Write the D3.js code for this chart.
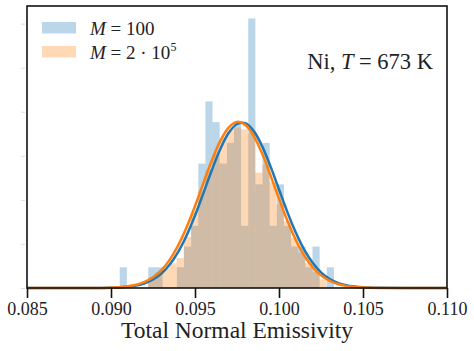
<!DOCTYPE html>
<html>
<head>
<meta charset="utf-8">
<script src="https://cdn.jsdelivr.net/npm/d3@7.9.0/dist/d3.min.js"></script>
<style>
  body { margin: 0; background: #fff; }
  svg { display: block; }
  text { font-family: "Liberation Serif", "DejaVu Serif", serif; fill: #222; }
</style>
</head>
<body>
<svg id="chart" width="474" height="351"></svg>
<script>
// histogram M = 100 : 30 equal bins between min and max, counts per bin
const blueMin = 0.09052, blueMax = 0.10327;
const blueCounts = [1,0,0,0,1,1,0,0,1,2,3,6,9,8,6,7,8,3,13,5,7,3,5,3,2,2,1,2,0,1];
const blueN = 100;

// histogram M = 2e5 : densities per bin
const orangeMin = 0.0922, orangeMax = 0.10283;
const orangeDens = [12,18,22,28,34,58,86,110,134,152,170,180,182,180,176,131,140,120,95,76,57,40,28,18,10];

// fitted normal curves
const curveX = [0.085,0.087,0.089,0.090,0.0905,0.091,0.0915,0.092,0.0925,0.093,0.0935,0.094,0.0945,0.095,0.0955,0.096,0.0965,0.097,0.0975,0.098,0.0985,0.099,0.0995,0.100,0.1005,0.101,0.1015,0.102,0.1025,0.103,0.1035,0.104,0.1045,0.105,0.106,0.108,0.110];
const curveBlue = [0,0,0.05,0.3,0.7,1.4,2.8,5.3,9.6,16.4,26.6,40.9,59.5,82.2,107.6,133.6,157.4,175.8,186.1,186.9,178.0,160.7,137.7,111.8,86.1,62.9,43.5,28.6,17.8,10.5,5.9,3.1,1.6,0.75,0.15,0,0];
const curveOrange = [0,0,0.08,0.4,0.9,1.9,3.7,6.9,12.2,20.3,32.2,48.4,68.9,93.0,119.1,144.7,166.6,182.0,188.5,185.1,172.4,152.3,127.5,101.3,76.3,54.5,36.9,23.7,14.4,8.3,4.6,2.4,1.2,0.55,0.1,0,0];

const xTicks = [0.085,0.090,0.095,0.100,0.105,0.110];
const yTicks = [0,50,100,150,200,250,300];

const svg = d3.select("#chart");
const margin = { top: 6, right: 27, bottom: 63, left: 27 };
const width = +svg.attr("width") - margin.left - margin.right;
const height = +svg.attr("height") - margin.top - margin.bottom;
const g = svg.append("g").attr("transform", `translate(${margin.left},${margin.top})`);

const x = d3.scaleLinear().domain([0.085, 0.110]).range([0, width]);
const y = d3.scaleLinear().domain([0, 320]).range([height, 0]);

const blueW = (blueMax - blueMin) / blueCounts.length;
const blueBins = blueCounts.map((c, i) => ({ x0: blueMin + i * blueW, x1: blueMin + (i + 1) * blueW, d: c / (blueN * blueW) }));
const orangeW = (orangeMax - orangeMin) / orangeDens.length;
const orangeBins = orangeDens.map((v, i) => ({ x0: orangeMin + i * orangeW, x1: orangeMin + (i + 1) * orangeW, d: v }));

const drawBins = (bins, color) => {
  g.append("g").selectAll("rect")
    .data(bins.filter(b => b.d > 0))
    .join("rect")
    .attr("x", d => x(d.x0))
    .attr("width", d => x(d.x1) - x(d.x0))
    .attr("y", d => y(d.d))
    .attr("height", d => y(0) - y(d.d))
    .attr("fill", color)
    .attr("fill-opacity", 0.3);
};
drawBins(blueBins, "#1f77b4");
drawBins(orangeBins, "#ff7f0e");

const line = vals => d3.line()
  .x((d, i) => x(curveX[i]))
  .y(d => y(d))
  .curve(d3.curveCatmullRom)(vals);

g.append("path").attr("d", line(curveBlue))
  .attr("fill", "none").attr("stroke", "#1f77b4").attr("stroke-width", 2.5);
g.append("path").attr("d", line(curveOrange))
  .attr("fill", "none").attr("stroke", "#ff7f0e").attr("stroke-width", 2.5);

// frame
g.append("rect").attr("width", width).attr("height", height)
  .attr("fill", "none").attr("stroke", "#111").attr("stroke-width", 1.6);

const xAxis = g.append("g")
  .attr("transform", `translate(0,${height})`)
  .call(d3.axisBottom(x).tickValues(xTicks).tickFormat(d3.format(".3f")).tickSize(10).tickPadding(4));
xAxis.select(".domain").remove();
xAxis.selectAll(".tick line").attr("stroke", "#111").attr("stroke-width", 1.6);
xAxis.selectAll(".tick text")
  .attr("font-family", "Liberation Serif, DejaVu Serif, serif")
  .attr("font-size", 18).attr("fill", "#222");

const yAxis = g.append("g")
  .call(d3.axisLeft(y).tickValues(yTicks).tickFormat("").tickSize(4).tickPadding(0));
yAxis.select(".domain").remove();
yAxis.selectAll(".tick line").attr("stroke", "#ddd").attr("stroke-width", 1).attr("transform", "translate(-2,0)");

g.append("text")
  .attr("x", width / 2).attr("y", height + 50)
  .attr("text-anchor", "middle")
  .attr("font-size", 23.5)
  .text("Total Normal Emissivity");

// legend
const legend = g.append("g").attr("transform", "translate(15,16)");
const items = [
  { color: "#1f77b4", parts: [["M", true], [" = 100", false]] },
  { color: "#ff7f0e", parts: [["M", true], [" = 2 · 10", false]], sup: "5" }
];
items.forEach((it, i) => {
  const row = legend.append("g").attr("transform", `translate(0,${i * 24})`);
  row.append("rect").attr("width", 34).attr("height", 11.5)
    .attr("fill", it.color).attr("fill-opacity", 0.3);
  const t = row.append("text").attr("x", 48).attr("y", 12.5).attr("font-size", 19);
  it.parts.forEach(([s, it2]) => t.append("tspan").attr("font-style", it2 ? "italic" : "normal").text(s));
  if (it.sup) t.append("tspan").attr("font-size", 12).attr("dy", -8).text(it.sup);
});

// annotation
const ann = g.append("text")
  .attr("x", width - 14).attr("y", 63)
  .attr("text-anchor", "end")
  .attr("font-size", 22.5);
ann.append("tspan").text("Ni, ");
ann.append("tspan").attr("font-style", "italic").text("T");
ann.append("tspan").text(" = 673 K");
</script>
</body>
</html>
